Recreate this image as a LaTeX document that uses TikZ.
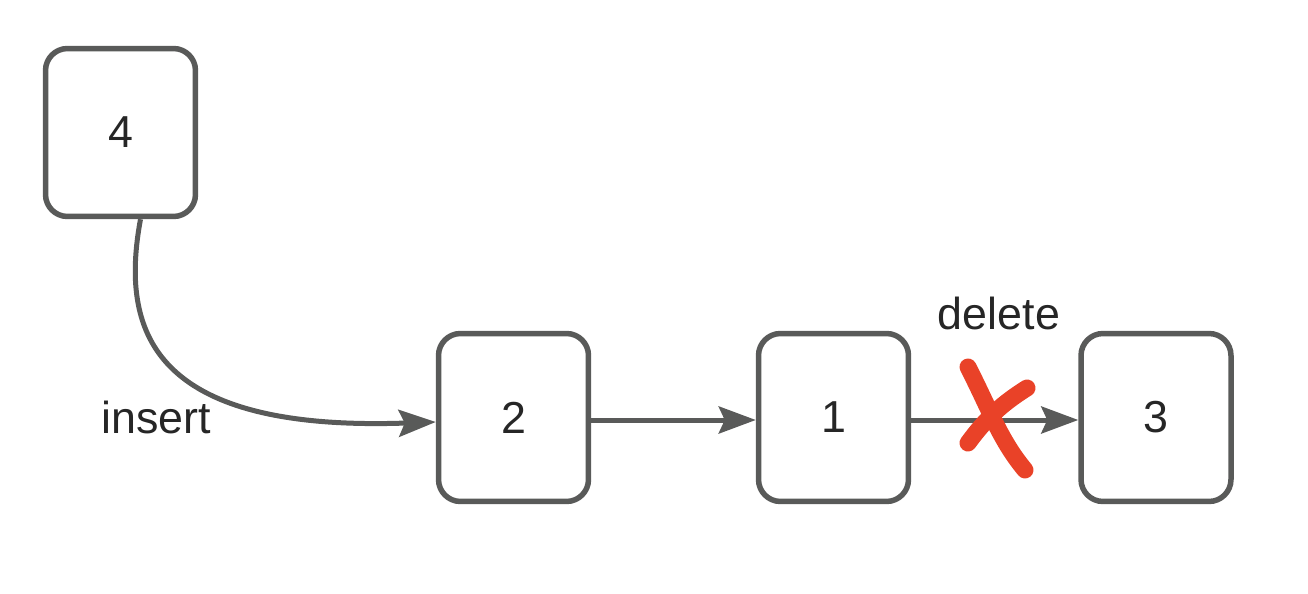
\documentclass[tikz,border=0pt]{standalone}
\usepackage{fontspec}
\setmainfont{Liberation Sans}
\usetikzlibrary{
    arrows.meta,
    calc,
    positioning
}
\definecolor{boxgray}{RGB}{89,90,89}
\definecolor{textdark}{RGB}{38,38,38}
\definecolor{crossred}{RGB}{233,66,40}
\tikzset{
    listnode/.style={draw=boxgray, line width=0.11cm, rounded corners=0.44cm,
        minimum width=3cm, minimum height=3.36cm, text=textdark,
        font=\fontsize{25.5}{30}\selectfont},
    link/.style={-{Stealth[length=0.74cm, width=0.54cm, inset=0.12cm]},
        draw=boxgray, line width=0.1cm},
    strike/.style={draw=crossred, line width=0.34cm, line cap=round},
    note/.style={text=textdark, font=\fontsize{25.5}{30}\selectfont}
}

\begin{document}
\begin{tikzpicture}[x=0.02cm, y=-0.02cm]
    \useasboundingbox (0,0) rectangle (1308,594);
    \node[listnode] (n4) at (120.5,132.5) {4};
    \node[listnode] (n2) at (513.5,417.5) {2};
    \node[listnode] (n1) at (833.5,417.5) {1};
    \node[listnode] (n3) at (1156,417.5) {3};
    % insert 4 before 2
    \draw[link] ($(n4.south)+(20,0)$) .. controls (120,330) and (150,432) .. (n2.west |- 0,422);
    \node[note] (ins) at (156,417) {insert};
    \draw[link] (n2.east |- 0,420) -- (n1.west |- 0,420);
    \draw[link] (n1.east |- 0,420) -- (n3.west |- 0,420);
    % cut the link 1 -> 3
    \node[note] (del) at (999,313) {delete};
    \draw[strike] (968,367) .. controls (990,410) and (1000,440) .. (1025,470);
    \draw[strike] (1027,388) .. controls (1000,405) and (985,420) .. (968,443);
\end{tikzpicture}
\end{document}
